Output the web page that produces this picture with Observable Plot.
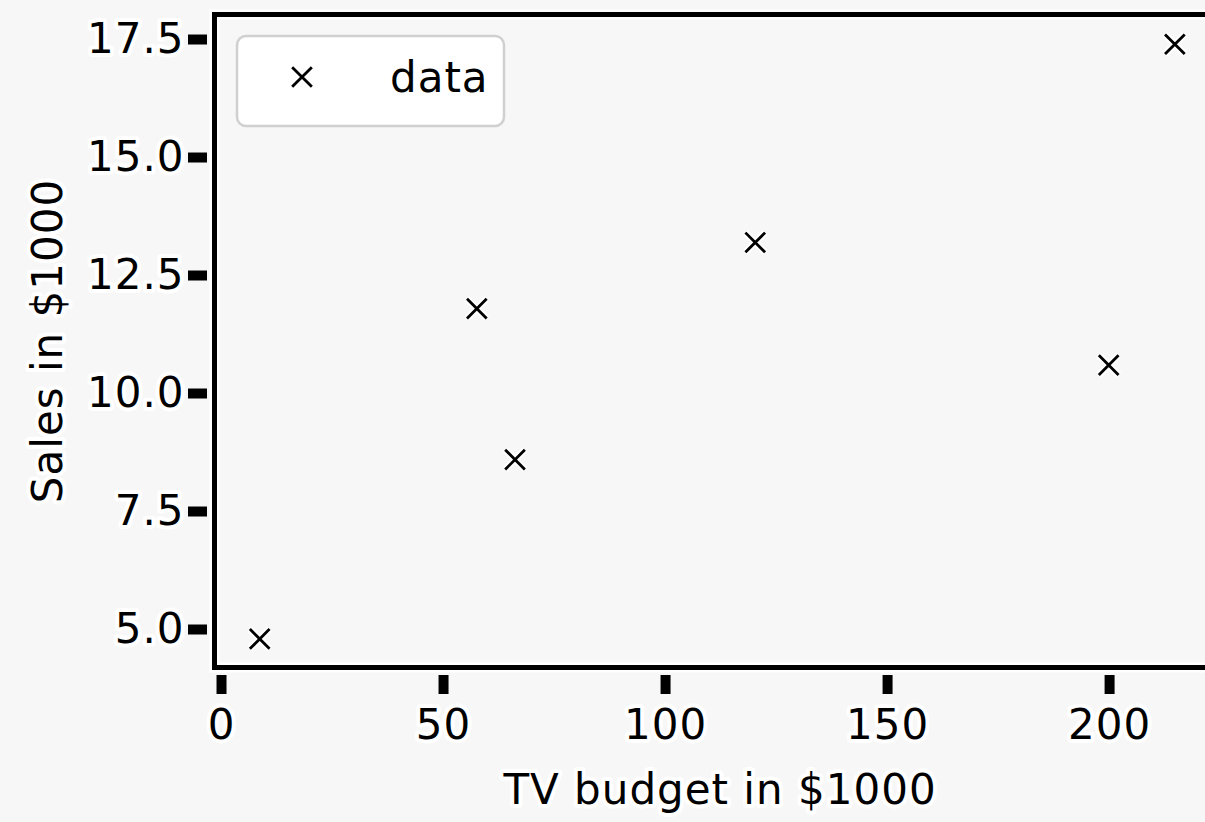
<!DOCTYPE html>
<html>
<head>
<meta charset="utf-8">
<script src="https://cdn.jsdelivr.net/npm/d3@7"></script>
<script src="https://cdn.jsdelivr.net/npm/@observablehq/plot@0.6"></script>
<style>
  html, body { margin: 0; padding: 0; background: #f7f7f7; }
  #chart { position: relative; width: 1205px; height: 822px; overflow: hidden; }
  svg { background: #f7f7f7; }
  svg text { letter-spacing: 1px; }
</style>
</head>
<body>
<div id="chart"></div>
<script>
// Data
const tvBudget = [8.6, 57.5, 66.1, 120.2, 199.8, 214.7];
const sales    = [4.8, 11.8, 8.6, 13.2, 10.6, 17.4];
const xTicks = [0, 50, 100, 150, 200];
const yTicks = [5.0, 7.5, 10.0, 12.5, 15.0, 17.5];
const seriesName = "data";
const xLabel = "TV budget in $1000";
const yLabel = "Sales in $1000";

const points = tvBudget.map((x, i) => ({x, y: sales[i]}));
const FONT = "DejaVu Sans";
const FS = 42;

const plot = Plot.plot({
  width: 1205,
  height: 822,
  marginLeft: 214,
  marginRight: 0,
  marginTop: 14,
  marginBottom: 155,
  style: {background: "#f7f7f7", fontFamily: FONT, color: "black"},
  x: {domain: [-1.58, 221.6]},
  y: {domain: [4.195, 18.03]},
  marks: [
    // spines with white halo
    Plot.frame({anchor: "top", stroke: "white", strokeWidth: 10}),
    Plot.frame({anchor: "left", stroke: "white", strokeWidth: 10}),
    Plot.frame({anchor: "bottom", stroke: "white", strokeWidth: 10}),
    Plot.frame({anchor: "top", stroke: "black", strokeWidth: 5}),
    Plot.frame({anchor: "left", stroke: "black", strokeWidth: 5}),
    Plot.frame({anchor: "bottom", stroke: "black", strokeWidth: 5}),
    Plot.axisX(xTicks, {
      anchor: "bottom", tickSize: 19, tickPadding: 15, strokeWidth: 10, dy: 8,
      fontSize: FS, label: null, tickFormat: d => String(d),
      textStroke: "white", textStrokeWidth: 8
    }),
    Plot.axisY(yTicks, {
      anchor: "left", tickSize: 19, tickPadding: 4, strokeWidth: 10, dx: -7,
      fontSize: FS, label: null, tickFormat: d => d.toFixed(1),
      textStroke: "white", textStrokeWidth: 8
    }),
    Plot.text([xLabel], {
      text: d => d, frameAnchor: "bottom", dy: 123, dx: 10, lineAnchor: "middle",
      fontSize: FS, fill: "black", stroke: "white", strokeWidth: 8, paintOrder: "stroke"
    }),
    Plot.text([yLabel], {
      text: d => d, frameAnchor: "left", dx: -166, rotate: -90, lineAnchor: "middle", textAnchor: "middle",
      fontSize: FS, fill: "black", stroke: "white", strokeWidth: 8, paintOrder: "stroke"
    }),
    Plot.dot(points, {x: "x", y: "y", symbol: "times", r: 9, stroke: "white", strokeWidth: 7}),
    Plot.dot(points, {x: "x", y: "y", symbol: "times", r: 9, stroke: "black", strokeWidth: 2.8})
  ]
});

document.getElementById("chart").appendChild(plot);

// in-plot legend (matplotlib style, upper left)
const svg = d3.select(plot);
const lg = svg.append("g").attr("class", "legend");
lg.append("rect")
  .attr("x", 237).attr("y", 36).attr("width", 267).attr("height", 90)
  .attr("rx", 9).attr("ry", 9)
  .attr("fill", "white").attr("stroke", "#d0d0d0").attr("stroke-width", 2.5);
const sym = d3.symbol(d3.symbolTimes, Math.PI * 81)();
lg.append("path").attr("d", sym).attr("transform", "translate(302,77)")
  .attr("fill", "none").attr("stroke", "black").attr("stroke-width", 2.8);
lg.append("text").attr("x", 390).attr("y", 77).attr("dy", "0.35em")
  .attr("text-anchor", "start")
  .attr("font-family", FONT).attr("font-size", FS).attr("fill", "black")
  .text(seriesName);
</script>
</body>
</html>
